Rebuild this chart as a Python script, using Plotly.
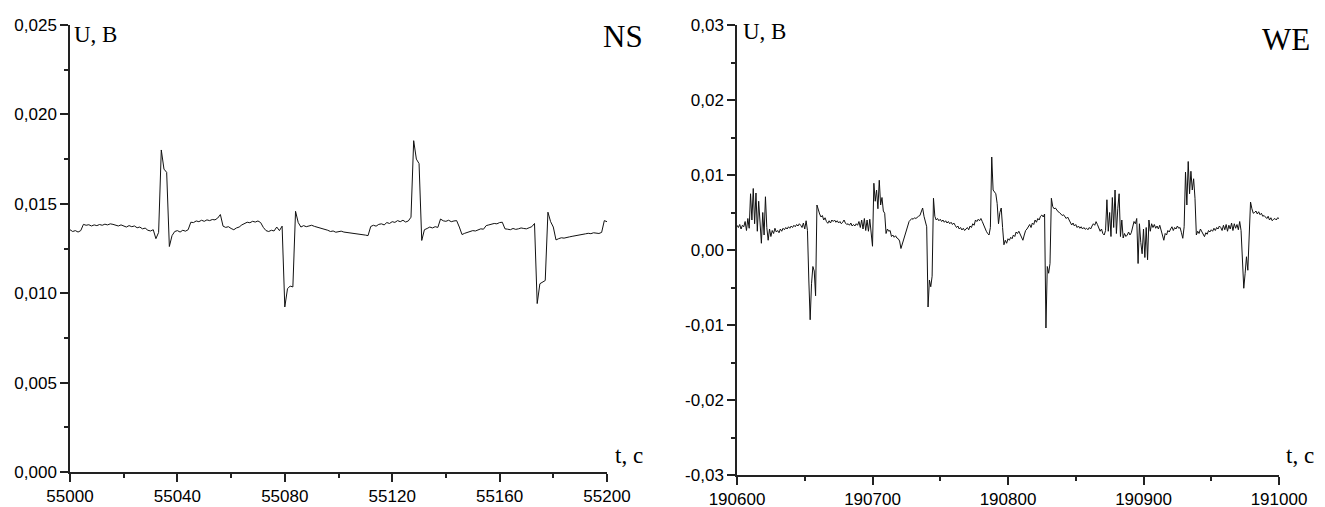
import numpy as np
import plotly.graph_objects as go

# ---------------- data ----------------
# NS channel: t = 55000 ... 55200 s, 1 s step; U in mV
ns_t0, ns_t1 = 55000, 55200
ns_mv = [
    13.55, 13.45, 13.50, 13.42, 13.50, 13.85, 13.80, 13.83, 13.76, 13.82,
    13.78, 13.84, 13.80, 13.86, 13.82, 13.88, 13.85, 13.80, 13.76, 13.82,
    13.74, 13.70, 13.78, 13.72, 13.76, 13.66, 13.70, 13.60, 13.64, 13.52,
    13.48, 13.55, 13.05, 13.40, 18.01, 16.94, 16.76, 12.61, 13.22, 13.45,
    13.50, 13.42, 13.52, 13.47, 13.55, 13.97, 13.95, 14.04, 14.00, 14.08,
    14.02, 14.10, 14.06, 14.12, 14.10, 14.20, 14.40, 13.75, 13.68, 13.72,
    13.62, 13.55, 13.65, 13.70, 13.82, 13.90, 13.97, 13.94, 14.02, 13.98,
    14.04, 13.95, 13.68, 13.50, 13.45, 13.52, 13.48, 13.70, 13.50, 13.75,
    9.23, 10.25, 10.40, 10.35, 14.58, 13.95, 13.70, 13.78, 13.72, 13.76,
    13.80, 13.74, 13.70, 13.66, 13.62, 13.60, 13.52, 13.45, 13.48, 13.41,
    13.44, 13.47, 13.42, 13.40, 13.38, 13.36, 13.33, 13.35, 13.30, 13.28,
    13.25, 13.22, 13.73, 13.80, 13.75, 13.85, 13.88, 13.82, 13.95, 13.90,
    14.00, 13.96, 14.06, 14.00, 14.08, 13.98, 14.04, 14.25, 18.53, 17.50,
    17.25, 12.95, 13.55, 13.62, 13.70, 13.65, 13.72, 13.68, 14.15, 14.05,
    14.02, 14.08, 14.00, 14.04, 14.06, 13.70, 13.28, 13.35, 13.40, 13.42,
    13.50, 13.48, 13.55, 13.60, 13.58, 13.78, 13.82, 13.86, 13.90, 13.88,
    13.95, 13.97, 13.60, 13.58, 13.55, 13.62, 13.57, 13.60, 13.65, 13.62,
    13.60, 13.66, 13.72, 13.90, 9.42, 10.53, 10.62, 10.71, 14.53, 14.00,
    13.70, 12.98, 13.05, 13.10, 13.08, 13.13, 13.15, 13.18, 13.20, 13.23,
    13.28, 13.30, 13.32, 13.35, 13.33, 13.38, 13.36, 13.34, 13.40, 14.06,
    14.00,
]

# WE channel: t = 190600 ... 191000 s, 1 s step; U in mV
we_t0, we_t1 = 190600, 191000
we_mv = [
    3.3, 3.0, 3.4, 2.8, 3.3, 3.1, 3.8, 2.6, 4.2, 2.9,
    7.5, 4.0, 8.2, 3.5, 7.6, 2.5, 6.5, 3.0, 0.9, 5.0,
    2.0, 7.1, 3.0, 1.3, 2.8, 1.8, 2.6, 2.2, 2.9, 2.4,
    2.6, 2.3, 2.8, 2.5, 2.9, 2.7, 3.0, 2.8, 3.1, 2.9,
    3.2, 3.0, 3.3, 3.1, 3.4, 3.2, 3.5, 3.3, 3.0, 3.6,
    2.8, 3.9, 2.6, -4.0, -9.3, -4.5, -2.2, -2.8, -6.1, 6.0,
    5.2, 4.8, 4.4, 4.6, 4.0, 4.3, 3.8, 3.56, 3.9, 3.6,
    4.0, 3.8, 4.0, 3.7, 3.9, 3.6, 3.8, 3.5, 3.7, 4.0,
    3.6, 3.4, 3.5, 3.3, 3.6, 3.2, 3.4, 3.2, 3.5, 3.3,
    3.8, 3.0, 4.0, 2.8, 4.2, 2.6, 4.0, 2.5, 4.1, 2.4,
    0.5, 8.9, 6.5, 8.0, 5.5, 9.3, 6.0, 7.0, 5.2, 4.9,
    2.2, 2.8, 2.5, 2.6, 1.8, 2.0, 1.7, 1.9, 1.6, 1.5,
    1.2, 0.2, 0.8, 1.5, 2.0, 2.8, 3.5, 3.8, 4.0, 4.2,
    4.1, 4.3, 4.2, 4.4, 4.5, 4.6, 5.0, 5.6, 4.5, 3.8,
    3.1, -7.6, -4.0, -4.9, -3.5, 6.9, 4.5, 4.0, 4.2, 3.9,
    4.1, 3.8, 4.0, 3.7, 3.9, 3.6, 3.8, 3.5, 3.7, 3.4,
    3.6, 3.3, 3.0, 3.2, 2.8, 3.0, 2.67, 2.9, 2.6, 2.8,
    3.0, 2.7, 3.2, 3.0, 3.5, 3.3, 4.0, 3.8, 4.1, 3.9,
    4.2, 3.8, 3.3, 2.9, 2.5, 2.2, 2.0, 3.0, 12.4, 8.0,
    7.8, 7.5, 6.2, 3.5, 5.0, 5.6, 3.0, 0.7, 1.3, 0.9,
    1.5, 1.3, 1.7, 1.5, 2.0, 1.8, 2.4, 2.2, 2.5, 2.1,
    1.8, 1.3, 2.0, 2.6, 2.8, 3.1, 3.4, 3.0, 3.6, 3.4,
    4.0, 3.7, 4.2, 4.0, 4.5, 4.67, 4.4, 4.8, -10.4, -2.2,
    -3.1, -1.8, 6.9, 5.8, 5.5, 5.6, 5.3, 5.1, 5.0, 4.8,
    4.6, 4.7, 4.4, 4.2, 4.4, 4.0, 3.8, 3.33, 3.6, 3.2,
    3.4, 3.0, 3.2, 2.9, 3.1, 2.8, 3.0, 2.76, 2.9, 2.7,
    3.0, 2.8, 3.2, 3.5, 3.3, 3.78, 3.4, 3.0, 2.5, 2.8,
    2.2, 2.0, 2.6, 6.7, 2.5, 5.0, 1.8, 7.0, 3.0, 8.0,
    2.2, 5.5, 7.5, 1.8, 4.0, 1.6, 2.2, 1.8, 2.0, 2.4,
    2.0, 2.3, 3.1, 3.8, 3.5, 4.2, -1.8, 3.5, 1.0, -0.5,
    2.8, -1.0, 3.0, -1.3, 4.0, 2.5, 3.5, 3.0, 3.4, 2.9,
    3.2, 2.8, 3.3, 2.6, 2.0, 1.3, 2.2, 2.0, 2.6, 2.4,
    2.8, 3.1, 2.6, 3.0, 2.8, 3.2, 2.9, 3.0, 2.3, 1.56,
    3.1, 10.4, 6.0, 11.8, 7.5, 10.5, 8.0, 9.5, 6.9, 2.0,
    2.5, 2.2, 2.8, 2.4, 2.0, 1.78, 2.3, 2.1, 2.6, 2.4,
    2.7, 2.5, 2.9, 2.6, 3.0, 2.8, 3.2, 3.0, 2.6, 3.3,
    2.7, 3.4, 2.5, 3.3, 2.8, 3.6, 2.6, 3.5, 2.9, 3.4,
    2.7, 3.8, 2.6, -2.0, -5.1, -3.1, -0.9, -2.7, 1.3, 6.4,
    5.5, 4.9, 5.0, 5.2, 4.8, 5.1, 4.7, 4.9, 4.5, 4.6,
    4.4, 4.2, 4.5, 4.0, 4.3, 3.9, 4.1, 4.2, 4.0, 4.3,
    4.2,
]

# tick labels
ns_xticks = [55000, 55040, 55080, 55120, 55160, 55200]
ns_xminor = [55020, 55060, 55100, 55140, 55180]
ns_yticks = [0.000, 0.005, 0.010, 0.015, 0.020, 0.025]
ns_ytext = ["0,000", "0,005", "0,010", "0,015", "0,020", "0,025"]
ns_yminor = [0.0025, 0.0075, 0.0125, 0.0175, 0.0225]

we_xticks = [190600, 190700, 190800, 190900, 191000]
we_xminor = [190650, 190750, 190850, 190950]
we_yticks = [-0.03, -0.02, -0.01, 0.0, 0.01, 0.02, 0.03]
we_ytext = ["-0,03", "-0,02", "-0,01", "0,00", "0,01", "0,02", "0,03"]
we_yminor = [-0.025, -0.015, -0.005, 0.005, 0.015, 0.025]

# ---------------- figure ----------------
# the page body has an 8 px margin, so the figure starts at (8, 8)
OFF = 8
W, H = 1325 - OFF, 507 - OFF


def fx(px):
    return (px - OFF) / W


def fy(py):
    return 1 - (py - OFF) / H


ns_t = np.arange(ns_t0, ns_t1 + 1)
we_t = np.arange(we_t0, we_t1 + 1)
ns_u = np.array(ns_mv) / 1000.0
we_u = np.array(we_mv) / 1000.0

fig = go.Figure()
fig.add_trace(go.Scatter(x=ns_t, y=ns_u, mode="lines", xaxis="x", yaxis="y",
                         line=dict(color="#111111", width=1), showlegend=False))
fig.add_trace(go.Scatter(x=we_t, y=we_u, mode="lines", xaxis="x2", yaxis="y2",
                         line=dict(color="#111111", width=1), showlegend=False))

tickfont = dict(family="Liberation Sans, Arial, sans-serif", size=17, color="black")
axis_common = dict(showline=True, linecolor="#222222", linewidth=1.5, ticks="outside",
                   ticklen=8, tickwidth=1.5, tickcolor="#222222", showgrid=False,
                   zeroline=False, tickfont=tickfont, mirror=False, fixedrange=True,
                   automargin=False)

fig.update_layout(
    width=W, height=H, autosize=False,
    margin=dict(l=0, r=0, t=0, b=0),
    paper_bgcolor="white", plot_bgcolor="white",
    xaxis=dict(domain=[fx(70), fx(607)], range=[ns_t0, ns_t1], anchor="y",
               tickmode="array", tickvals=ns_xticks, ticktext=[str(v) for v in ns_xticks],
               minor=dict(tickvals=ns_xminor, ticks="outside", ticklen=4, tickwidth=1.5,
                          tickcolor="#222222"),
               **axis_common),
    yaxis=dict(domain=[fy(472), fy(25)], range=[0, 0.025], anchor="x",
               tickmode="array", tickvals=ns_yticks, ticktext=ns_ytext,
               minor=dict(tickvals=ns_yminor, ticks="outside", ticklen=4, tickwidth=1.5,
                          tickcolor="#222222"),
               **axis_common),
    xaxis2=dict(domain=[fx(737), fx(1279)], range=[we_t0, we_t1], anchor="y2",
                tickmode="array", tickvals=we_xticks, ticktext=[str(v) for v in we_xticks],
                minor=dict(tickvals=we_xminor, ticks="outside", ticklen=4, tickwidth=1.5,
                           tickcolor="#222222"),
                **axis_common),
    yaxis2=dict(domain=[fy(475), fy(25)], range=[-0.03, 0.03], anchor="x2",
                tickmode="array", tickvals=we_yticks, ticktext=we_ytext,
                minor=dict(tickvals=we_yminor, ticks="outside", ticklen=4, tickwidth=1.5,
                           tickcolor="#222222"),
                **axis_common),
)

serif = "Liberation Serif, Times New Roman, serif"
annots = [
    dict(text="U, B", x=fx(72), y=fy(34), xanchor="left", size=23),
    dict(text="NS", x=fx(623), y=fy(36), xanchor="center", size=31),
    dict(text="t, c", x=fx(629), y=fy(455), xanchor="center", size=23),
    dict(text="U, B", x=fx(741), y=fy(31), xanchor="left", size=23),
    dict(text="WE", x=fx(1286), y=fy(40), xanchor="center", size=31),
    dict(text="t, c", x=fx(1300), y=fy(455), xanchor="center", size=23),
]
for a in annots:
    fig.add_annotation(text=a["text"], x=a["x"], y=a["y"], xref="paper", yref="paper",
                       xanchor=a["xanchor"], yanchor="middle", showarrow=False,
                       font=dict(family=serif, size=a["size"], color="black"))

fig.write_html("out.html")
